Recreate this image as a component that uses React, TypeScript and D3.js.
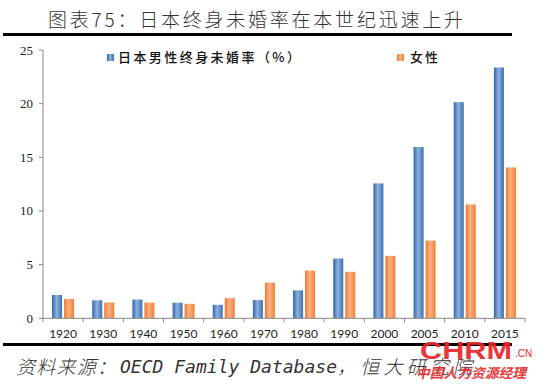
import React from "react";
import * as d3 from "d3";

// 日本终身未婚率（%）
const years = ["1920", "1930", "1940", "1950", "1960", "1970", "1980", "1990", "2000", "2005", "2010", "2015"];
const maleRate = [2.17, 1.68, 1.75, 1.45, 1.26, 1.7, 2.6, 5.57, 12.57, 15.96, 20.14, 23.37];
const femaleRate = [1.8, 1.48, 1.47, 1.35, 1.88, 3.33, 4.45, 4.33, 5.82, 7.25, 10.61, 14.06];
const yTicks = [0, 5, 10, 15, 20, 25];
const seriesNames = ["日本男性终身未婚率（%）", "女性"];

const W = 550;
const H = 388;

const App: React.FC = () => {
  const x = d3.scaleBand<string>().domain(years).range([43, 525]);
  const y = d3.scaleLinear().domain([0, 25]).range([318.3, 50]);
  const barW = 10;
  const gap = 2;

  const cjk = "'Noto Sans CJK SC', sans-serif";

  return (
    <svg width={W} height={H} style={{ position: "absolute", left: 0, top: 0, background: "#fff" }}>
      <defs>
        <linearGradient id="gBlue" x1="0" x2="1" y1="0" y2="0">
          <stop offset="0%" stopColor="#2c64ad" />
          <stop offset="45%" stopColor="#8fb2dc" />
          <stop offset="100%" stopColor="#3a70b6" />
        </linearGradient>
        <linearGradient id="gOrange" x1="0" x2="1" y1="0" y2="0">
          <stop offset="0%" stopColor="#ec7a30" />
          <stop offset="45%" stopColor="#fab283" />
          <stop offset="100%" stopColor="#ee8038" />
        </linearGradient>
      </defs>

      {/* title */}
      <text x={48} y={27} fontFamily={cjk} fontSize={19} fontWeight={300} textLength={415} lengthAdjust="spacing" fill="#333">
        图表75：日本终身未婚率在本世纪迅速上升
      </text>
      <rect x={3} y={33} width={509} height={3} fill="#000" />

      {/* y axis */}
      <line x1={43} x2={43} y1={y(25)} y2={y(0)} stroke="#888" />
      {yTicks.map((t) => (
        <g key={t}>
          <line x1={39} x2={43} y1={y(t)} y2={y(t)} stroke="#888" />
          <text x={33} y={y(t) + 4.5} textAnchor="end" fontFamily="'Liberation Serif', serif" fontSize={13} fill="#222">
            {t}
          </text>
        </g>
      ))}

      {/* bars */}
      {years.map((yr, i) => {
        const c = x(yr)! + x.bandwidth() / 2;
        return (
          <g key={yr}>
            <rect x={c - gap / 2 - barW} y={y(maleRate[i])} width={barW} height={y(0) - y(maleRate[i])} fill="url(#gBlue)" />
            <rect x={c + gap / 2} y={y(femaleRate[i])} width={barW} height={y(0) - y(femaleRate[i])} fill="url(#gOrange)" />
          </g>
        );
      })}

      {/* x axis */}
      <line x1={43} x2={525} y1={y(0)} y2={y(0)} stroke="#888" />
      {years.map((yr) => (
        <line key={"t" + yr} x1={x(yr)!} x2={x(yr)!} y1={y(0)} y2={y(0) + 4} stroke="#888" />
      ))}
      <line x1={525} x2={525} y1={y(0)} y2={y(0) + 4} stroke="#888" />
      {years.map((yr) => (
        <text key={"l" + yr} x={x(yr)! + x.bandwidth() / 2} y={338} textAnchor="middle" fontFamily="Lato, sans-serif" fontSize={12} fill="#222">
          {yr}
        </text>
      ))}

      {/* legend */}
      <rect x={107} y={54} width={7} height={7} fill="url(#gBlue)" />
      <text x={118} y={62} fontFamily={cjk} fontSize={13} fontWeight={500} textLength={182} lengthAdjust="spacing" fill="#111">
        {seriesNames[0]}
      </text>
      <rect x={397} y={54} width={7} height={7} fill="url(#gOrange)" />
      <text x={410} y={62} fontFamily={cjk} fontSize={13} letterSpacing={2} fontWeight={500} fill="#111">
        {seriesNames[1]}
      </text>

      {/* bottom rule and source */}
      <rect x={3} y={343} width={509} height={3} fill="#000" />
      <text x={16} y={374} fontFamily={cjk} fontSize={19} fontStyle="italic" fontWeight={300} textLength={100} lengthAdjust="spacing" fill="#333">
        资料来源：
      </text>
      <text x={120} y={373} fontFamily="'DejaVu Sans Mono', 'Liberation Mono', monospace" fontSize={18} fontStyle="italic" textLength={217} lengthAdjust="spacingAndGlyphs" fill="#333">
        OECD Family Database
      </text>
      <text x={337} y={374} fontFamily={cjk} fontSize={19} fontStyle="italic" fontWeight={300} textLength={135} lengthAdjust="spacing" fill="#333">
        ，恒大研究院
      </text>

      {/* watermark */}
      <text x={420} y={359} fontFamily="'Liberation Sans', sans-serif" fontWeight="bold" fontSize={24} textLength={92} lengthAdjust="spacingAndGlyphs" fill="#e8262a" opacity={0.92}>
        CHRM
      </text>
      <text x={515} y={357} fontFamily="'Liberation Sans', sans-serif" fontSize={10} fill="#e8262a">
        .CN
      </text>
      <text x={416} y={378} fontFamily={cjk} fontWeight="bold" fontStyle="italic" fontSize={13.5} textLength={110} lengthAdjust="spacingAndGlyphs" fill="#e8262a" opacity={0.9}>
        中国人力资源经理
      </text>
    </svg>
  );
};

export default App;
